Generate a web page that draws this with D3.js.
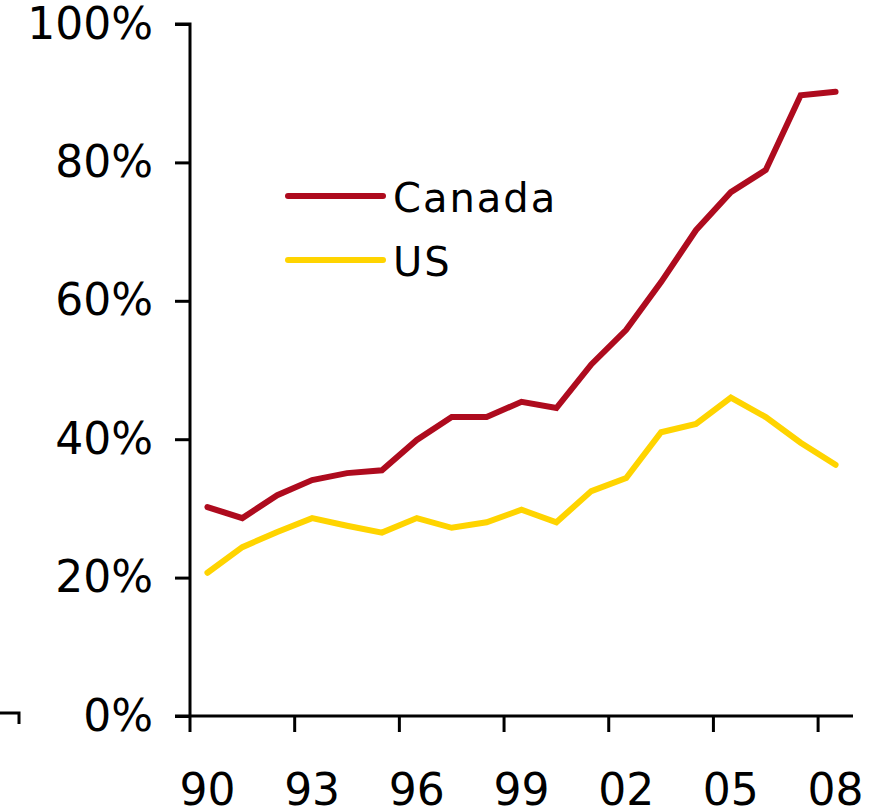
<!DOCTYPE html>
<html lang="en">

<head>
    <meta charset="UTF-8">
    <script src="https://d3js.org/d3.v7.min.js"></script>
    <title>Canada vs US</title>
    <style>
        body {
            margin: 0;
            background: #fff;
        }

        svg text {
            font-family: "DejaVu Sans", Verdana, sans-serif;
            fill: #000;
        }
    </style>
</head>

<body>
    <script>
        // data
        var years = d3.range(1990, 2009)
        var canada = [30.2, 28.6, 31.9, 34.1, 35.1, 35.5, 39.9, 43.2, 43.2, 45.4, 44.5,
            50.8, 55.8, 62.7, 70.2, 75.7, 78.9, 89.7, 90.2]
        var us = [20.7, 24.4, 26.6, 28.6, 27.5, 26.5, 28.6, 27.2, 28.0, 29.8, 28.0,
            32.5, 34.4, 41.0, 42.2, 46.0, 43.2, 39.5, 36.3]
        var yTicks = [0, 20, 40, 60, 80, 100]
        var xLabelYears = [1990, 1993, 1996, 1999, 2002, 2005, 2008]

        var series = [
            { name: "Canada", values: canada, color: "#ae0b1e" },
            { name: "US", values: us, color: "#ffd400" }
        ]

        var width = 878, height = 811
        var svg = d3.select("body")
            .append("svg")
            .attr("width", width)
            .attr("height", height)

        var x = d3.scaleBand()
            .domain(years)
            .range([190, 853])

        var y = d3.scaleLinear()
            .domain([0, 100])
            .range([716, 24])

        // y axis
        var yAxis = svg.append("g")
            .attr("transform", "translate(190,0)")
            .call(d3.axisLeft(y).tickValues(yTicks).tickSize(15).tickPadding(22)
                .tickFormat(function (d) { return d + "%" }))
        yAxis.select(".domain").attr("d", "M-15," + y(100) + "H0V" + y(0))
        yAxis.selectAll("line").attr("stroke-width", 3)
        yAxis.select(".domain").attr("stroke-width", 3)
        yAxis.selectAll("text")
            .attr("font-size", 44)
            .attr("font-family", "DejaVu Sans")

        // x axis: ticks between categories every 3 years, labels at category centres
        var xAxis = svg.append("g").attr("transform", "translate(0," + y(0) + ")")
        xAxis.append("line")
            .attr("x1", 175).attr("x2", x.range()[1])
            .attr("stroke", "#000").attr("stroke-width", 3)
        xAxis.selectAll(".tick")
            .data(xLabelYears)
            .join("line")
            .attr("class", "tick")
            .attr("x1", function (d) { return x(d) })
            .attr("x2", function (d) { return x(d) })
            .attr("y1", 0).attr("y2", 16)
            .attr("stroke", "#000").attr("stroke-width", 3)
        xAxis.selectAll(".lbl")
            .data(xLabelYears)
            .join("text")
            .attr("class", "lbl")
            .attr("x", function (d) { return x(d) + x.bandwidth() / 2 })
            .attr("y", 89)
            .attr("text-anchor", "middle")
            .attr("font-size", 44)
            .text(function (d) { return String(d).slice(2) })

        // lines
        var line = d3.line()
            .x(function (d, i) { return x(years[i]) + x.bandwidth() / 2 })
            .y(function (d) { return y(d) })

        svg.selectAll(".series")
            .data(series)
            .join("path")
            .attr("class", "series")
            .attr("d", function (d) { return line(d.values) })
            .attr("fill", "none")
            .attr("stroke", function (d) { return d.color })
            .attr("stroke-width", 6)
            .attr("stroke-linejoin", "miter")
            .attr("stroke-linecap", "round")

        // legend
        var legend = svg.selectAll(".legend")
            .data(series)
            .join("g")
            .attr("class", "legend")
            .attr("transform", function (d, i) { return "translate(288," + (196 + i * 64) + ")" })
        legend.append("line")
            .attr("x1", 0).attr("x2", 95)
            .attr("stroke", function (d) { return d.color })
            .attr("stroke-width", 6)
            .attr("stroke-linecap", "round")
        legend.append("text")
            .attr("x", 105)
            .attr("y", 16)
            .attr("font-size", 40)
            .attr("letter-spacing", 2)
            .text(function (d) { return d.name })

        // small leftover corner mark near the bottom left
        svg.append("path")
            .attr("d", "M0,713H19V724")
            .attr("fill", "none")
            .attr("stroke", "#000")
            .attr("stroke-width", 3)
    </script>
</body>

</html>
